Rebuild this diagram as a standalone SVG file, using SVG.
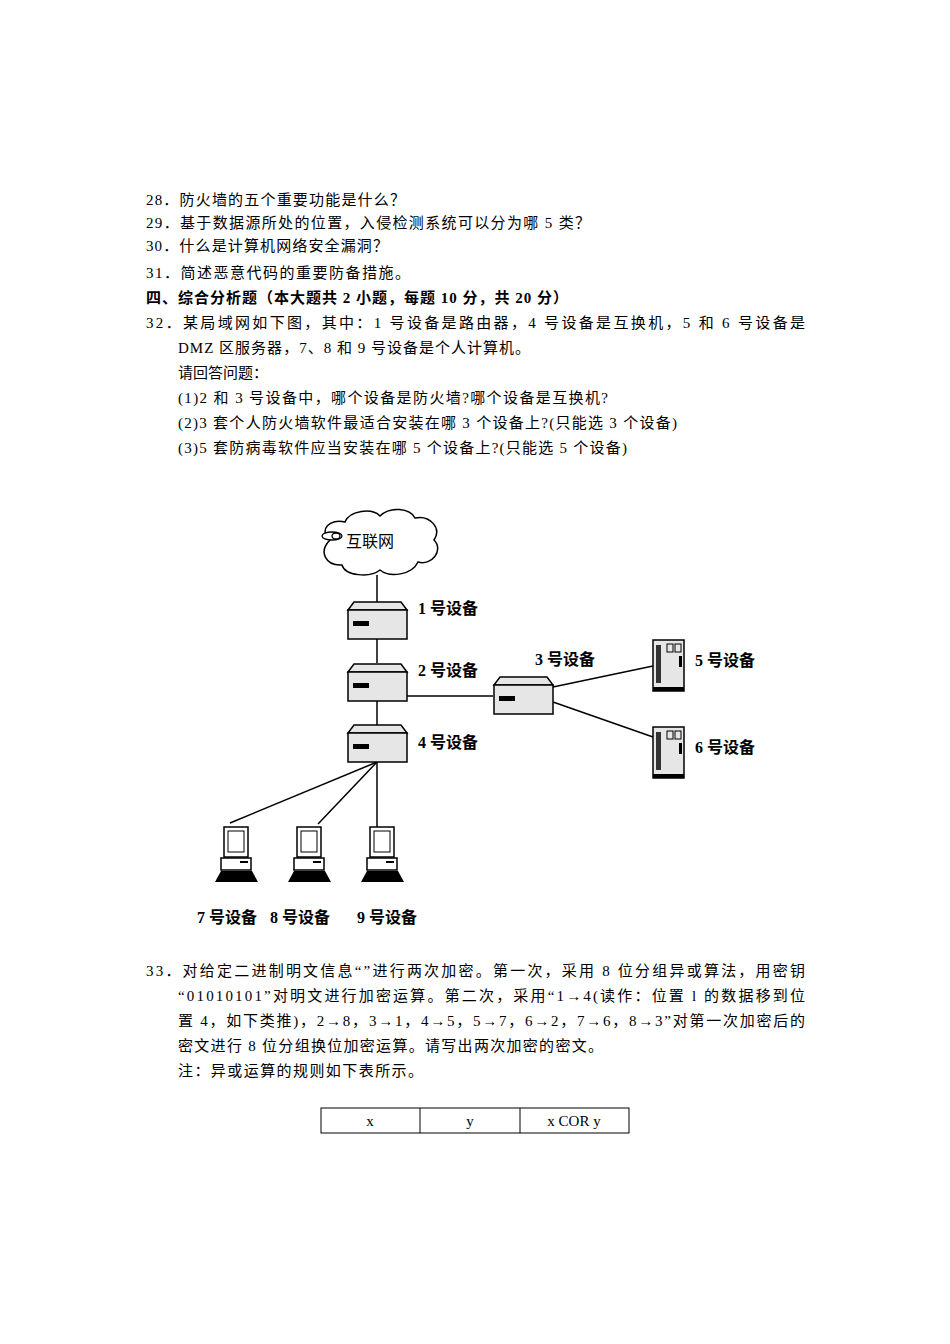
<svg xmlns="http://www.w3.org/2000/svg" width="950" height="1344" viewBox="0 0 950 1344">
<style>
text{font-family:"Liberation Serif","Noto Sans CJK SC",serif;font-size:15px;fill:#000}
.b{font-weight:bold}
.lbl{font-size:16px;font-weight:bold}
.dev{fill:#e6e6e6;stroke:#000;stroke-width:1.5}
.ln{stroke:#000;stroke-width:1.5;fill:none}
</style>
<defs>
<g id="box">
<path class="dev" d="M0,8 L6,0 L53,0 L59,8 Z"/>
<rect class="dev" x="0" y="8" width="59" height="29"/>
<rect x="5" y="19" width="16" height="5" fill="#000"/>
</g>
<g id="srv">
<rect class="dev" x="0" y="0" width="31" height="51"/>
<rect x="3" y="5" width="5" height="38" fill="#333"/>
<rect x="14" y="4" width="6" height="8" fill="none" stroke="#000"/>
<rect x="22" y="4" width="6" height="8" fill="none" stroke="#000"/>
<rect x="26" y="16" width="3" height="11" fill="#000"/>
<rect x="0" y="47" width="31" height="4" fill="#000"/>
</g>
<g id="pc">
<rect x="10" y="0" width="24" height="30" fill="#fff" stroke="#000" stroke-width="1.5"/>
<rect x="14" y="4" width="16" height="21" fill="none" stroke="#000"/>
<rect x="7" y="31" width="30" height="12" fill="#fff" stroke="#000" stroke-width="1.5"/>
<rect x="26" y="34" width="8" height="2" fill="#000"/>
<path d="M1,55 L7,44 L38,44 L44,55 Z" fill="#000"/>
</g>
</defs>
<g id="text">
<text x="146" y="205" textLength="259" lengthAdjust="spacing">28．防火墙的五个重要功能是什么？</text>
<text x="146" y="228" textLength="444" lengthAdjust="spacing">29．基于数据源所处的位置，入侵检测系统可以分为哪 5 类？</text>
<text x="146" y="251" textLength="242" lengthAdjust="spacing">30．什么是计算机网络安全漏洞？</text>
<text x="146" y="278" textLength="264" lengthAdjust="spacing">31．简述恶意代码的重要防备措施。</text>
<text x="146" y="303" class="b" textLength="422" lengthAdjust="spacing">四、综合分析题（本大题共 2 小题，每题 10 分，共 20 分）</text>
<text x="146" y="328" textLength="659" lengthAdjust="spacing">32．某局域网如下图，其中：1 号设备是路由器，4 号设备是互换机，5 和 6 号设备是</text>
<text x="178" y="353" textLength="352" lengthAdjust="spacing">DMZ 区服务器，7、8 和 9 号设备是个人计算机。</text>
<text x="178" y="378" textLength="90" lengthAdjust="spacing">请回答问题：</text>
<text x="178" y="403" textLength="430" lengthAdjust="spacing">(1)2 和 3 号设备中，哪个设备是防火墙?哪个设备是互换机?</text>
<text x="178" y="428" textLength="499" lengthAdjust="spacing">(2)3 套个人防火墙软件最适合安装在哪 3 个设备上?(只能选 3 个设备)</text>
<text x="178" y="453" textLength="449" lengthAdjust="spacing">(3)5 套防病毒软件应当安装在哪 5 个设备上?(只能选 5 个设备)</text>
<text x="146" y="976" textLength="659" lengthAdjust="spacing">33．对给定二进制明文信息“”进行两次加密。第一次，采用 8 位分组异或算法，用密钥</text>
<text x="178" y="1001" textLength="627" lengthAdjust="spacing">“01010101”对明文进行加密运算。第二次，采用“1→4(读作：位置 l 的数据移到位</text>
<text x="178" y="1026" textLength="627" lengthAdjust="spacing">置 4，如下类推)，2→8，3→1，4→5，5→7，6→2，7→6，8→3”对第一次加密后的</text>
<text x="178" y="1051" textLength="425" lengthAdjust="spacing">密文进行 8 位分组换位加密运算。请写出两次加密的密文。</text>
<text x="178" y="1076" textLength="245" lengthAdjust="spacing">注：异或运算的规则如下表所示。</text>
</g>
<g id="table">
<rect x="321" y="1108" width="308" height="25" fill="none" stroke="#000"/>
<line x1="420" y1="1108" x2="420" y2="1133" stroke="#000"/>
<line x1="520" y1="1108" x2="520" y2="1133" stroke="#000"/>
<text x="370" y="1126" text-anchor="middle">x</text>
<text x="470" y="1126" text-anchor="middle">y</text>
<text x="574" y="1126" text-anchor="middle">x COR y</text>
</g>
<g id="connectors">
<line class="ln" x1="377" y1="575" x2="377" y2="602"/>
<line class="ln" x1="377" y1="638" x2="377" y2="663"/>
<line class="ln" x1="377" y1="701" x2="377" y2="725"/>
<line class="ln" x1="407" y1="696" x2="493" y2="696"/>
<line class="ln" x1="553" y1="687" x2="653" y2="666"/>
<line class="ln" x1="553" y1="702" x2="653" y2="737"/>
<line class="ln" x1="377" y1="762" x2="230" y2="823"/>
<line class="ln" x1="377" y1="762" x2="318" y2="824"/>
<line class="ln" x1="377" y1="762" x2="377" y2="827"/>
</g>
<g id="cloud">
<path class="ln" fill="#fff" d="M330,540 C318,530 330,518 345,522 C350,510 372,508 380,516 C390,506 410,508 415,518 C430,515 442,528 434,540 C444,550 432,566 418,562 C412,575 390,578 380,570 C370,578 345,576 342,565 C326,566 318,552 330,540 Z"/>
<ellipse cx="332" cy="536" rx="10" ry="4" fill="#fff" stroke="#000" stroke-width="1.3"/>
<ellipse cx="336" cy="536" rx="4" ry="3" fill="#fff" stroke="#000" stroke-width="1.3"/>
<text x="346" y="547" style="font-size:16px">互联网</text>
</g>
<g id="dev1"><use href="#box" x="348" y="602"/><text x="418" y="614" class="lbl">1 号设备</text></g>
<g id="dev2"><use href="#box" x="348" y="664"/><text x="418" y="676" class="lbl">2 号设备</text></g>
<g id="dev4"><use href="#box" x="348" y="725"/><text x="418" y="748" class="lbl">4 号设备</text></g>
<g id="dev3"><use href="#box" x="494" y="677"/><text x="535" y="665" class="lbl">3 号设备</text></g>
<g id="dev5"><use href="#srv" x="653" y="640"/><text x="695" y="666" class="lbl">5 号设备</text></g>
<g id="dev6"><use href="#srv" x="653" y="727"/><text x="695" y="753" class="lbl">6 号设备</text></g>
<g id="dev7"><use href="#pc" x="214" y="827"/><text x="197" y="923" class="lbl">7 号设备</text></g>
<g id="dev8"><use href="#pc" x="287" y="827"/><text x="270" y="923" class="lbl">8 号设备</text></g>
<g id="dev9"><use href="#pc" x="360" y="827"/><text x="357" y="923" class="lbl">9 号设备</text></g>
</svg>
